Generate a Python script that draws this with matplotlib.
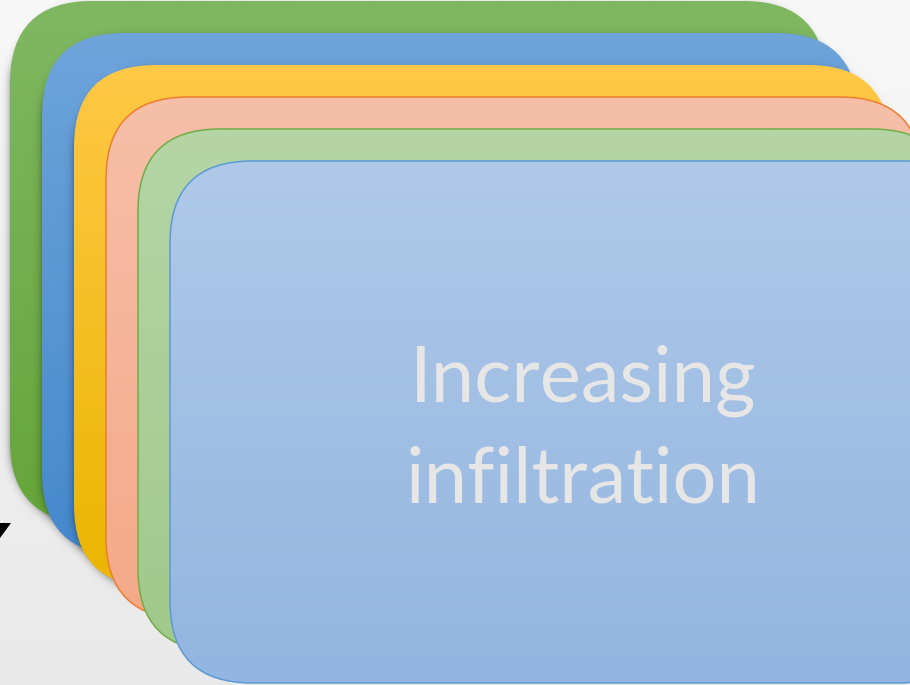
import numpy as np
import matplotlib
matplotlib.use("Agg")
import matplotlib.pyplot as plt
from matplotlib.patches import FancyBboxPatch, Polygon
from matplotlib.colors import to_rgb

# ---- content ----
card_names = ["green", "blue", "yellow", "salmon", "lightgreen", "lightblue"]
card_top_colors = ["#80b862", "#6ea4da", "#ffc846", "#f6bfa8", "#b5d5a7", "#b0c9e8"]
card_bottom_colors = ["#65a63a", "#4589cd", "#ebb500", "#f5a988", "#a0c98a", "#93b5e1"]
card_edge_colors = [None, None, None, "#ed7d31", "#70ad47", "#5b9bd5"]
card_has_shadow = [True, True, True, False, False, False]
label_lines = ["Increasing", "infiltration"]
text_color = "#e6e6e6"

W, H = 910, 685
fig = plt.figure(figsize=(W / 100, H / 100), dpi=100)
ax = fig.add_axes([0, 0, 1, 1])
ax.set_xlim(0, W)
ax.set_ylim(H, 0)
ax.axis("off")


def vgrad(c1, c2, n=256):
    a = np.array(to_rgb(c1))
    b = np.array(to_rgb(c2))
    t = np.linspace(0, 1, n)[:, None]
    return (a * (1 - t) + b * t)[:, None, :]


# background gradient
ax.imshow(vgrad("#f8f8f8", "#e9e9e9"), extent=(0, W, H, 0), aspect="auto", zorder=0)

# geometry of stacked cards
x0, y0, step = 10, 1, 32
cw, ch, r = 816, 522, 82

yy, xx = np.mgrid[0:H, 0:W] + 0.5


def sdf(x, y, w, h, rad):
    cx, cy = x + w / 2, y + h / 2
    qx = np.abs(xx - cx) - (w / 2 - rad)
    qy = np.abs(yy - cy) - (h / 2 - rad)
    outside = np.hypot(np.maximum(qx, 0), np.maximum(qy, 0))
    inside = np.minimum(np.maximum(qx, qy), 0)
    return outside + inside - rad


for i, name in enumerate(card_names):
    x = x0 + i * step
    y = y0 + i * step
    z = 10 + 3 * i
    if card_has_shadow[i]:
        d = sdf(x + 1, y + 5, cw, ch, r)
        alpha = 0.6 / (1 + np.exp(d / 2.6))
        sh = np.zeros((H, W, 4))
        sh[..., 3] = alpha
        ax.imshow(sh, extent=(0, W, H, 0), aspect="auto", zorder=z, interpolation="bilinear")
    ec = card_edge_colors[i]
    patch = FancyBboxPatch((x, y), cw, ch, boxstyle=f"round,pad=0,rounding_size={r}",
                           facecolor="none", edgecolor=ec if ec else "none",
                           linewidth=1.1 if ec else 0, zorder=z + 2)
    ax.add_patch(patch)
    im = ax.imshow(vgrad(card_top_colors[i], card_bottom_colors[i]),
                   extent=(x, x + cw, y + ch, y), aspect="auto", zorder=z + 1,
                   interpolation="bilinear")
    im.set_clip_path(patch)

# arrow tip at left edge
ax.add_patch(Polygon([(0, 523), (11, 523), (0, 538)], closed=True,
                     facecolor="black", edgecolor="none", zorder=5))

# label text, fitted to width
fam = ["Lato", "DejaVu Sans"]
t1 = ax.text(583, 402, label_lines[0], ha="center", va="baseline", color=text_color,
             fontsize=60, family=fam, zorder=100)
t2 = ax.text(583, 502, label_lines[1], ha="center", va="baseline", color=text_color,
             fontsize=60, family=fam, zorder=100)
fig.canvas.draw()
wid = t1.get_window_extent().width
fs = 60 * 347 / wid
t1.set_fontsize(fs)
t2.set_fontsize(fs)

ax.set_xlim(0, W)
ax.set_ylim(H, 0)
fig.savefig("out.png", dpi=100)
